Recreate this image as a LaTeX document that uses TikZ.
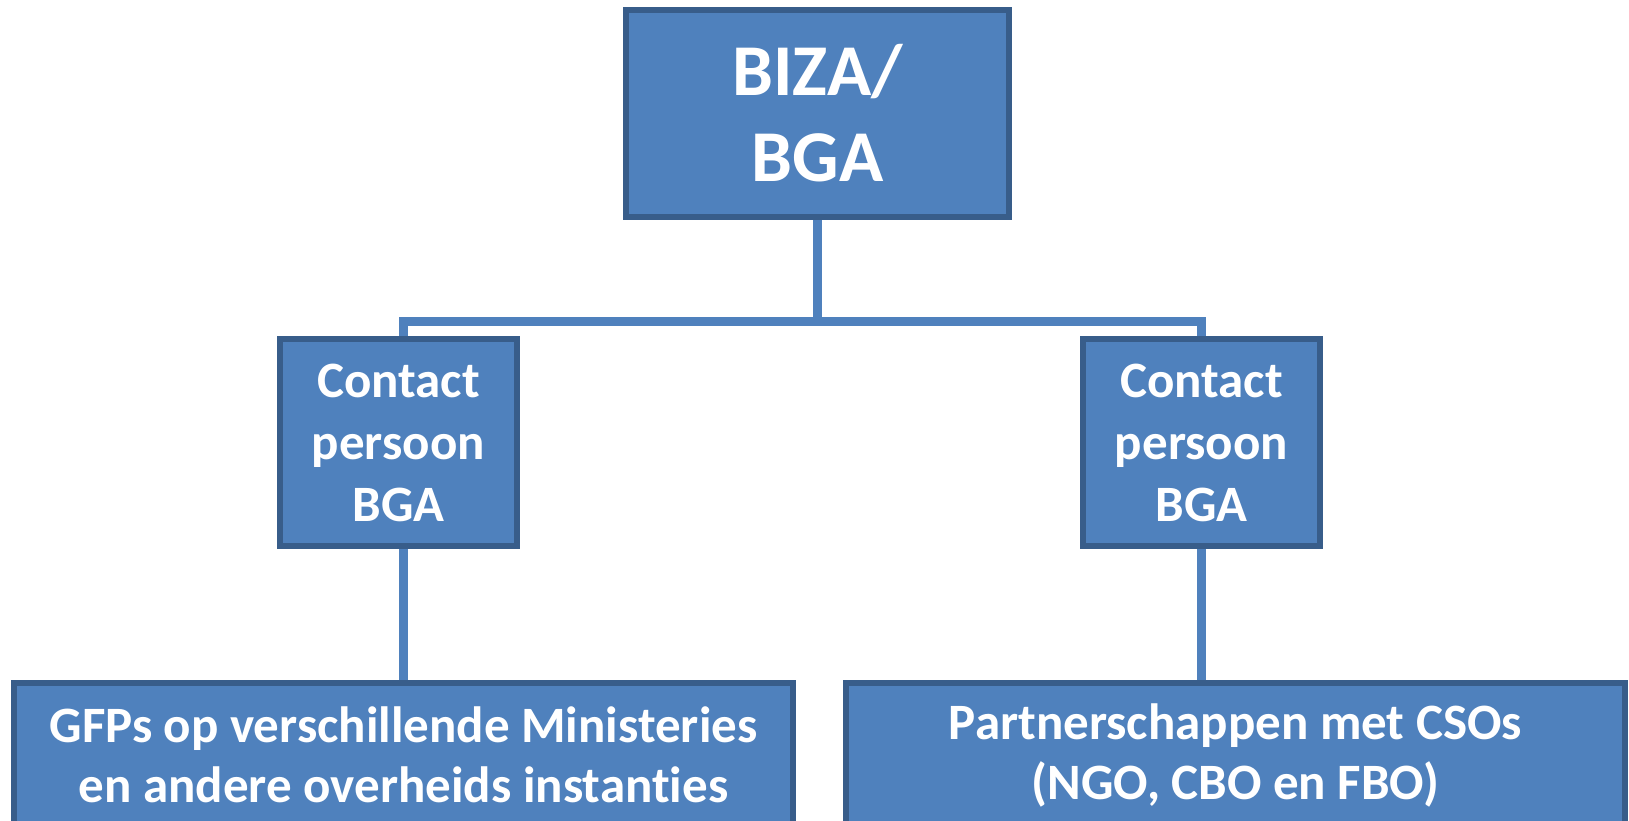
\documentclass[tikz,border=0pt]{standalone}
\usepackage{fontspec}
\setmainfont{Carlito}[Ligatures=NoCommon]
\definecolor{boxfill}{HTML}{4F81BD}
\definecolor{boxline}{HTML}{385D8A}
\begin{document}
\begin{tikzpicture}[x=1pt,y=-1pt,
	blok/.style={draw=boxline,fill=boxfill,line width=6pt,text=white,font=\bfseries,align=center,inner sep=0pt},
	lijn/.style={draw=boxfill,line width=9pt}]
	\useasboundingbox (0,0) rectangle (1629,820);
	\clip (0,0) rectangle (1629,820);
	\node[blok,minimum width=383,minimum height=207,font=\bfseries\fontsize{73}{86}\selectfont] (biza) at (817.5,113.5) {BIZA/\\BGA};
	\node[blok,minimum width=237,minimum height=207,font=\bfseries\fontsize{51}{62}\selectfont] (gfpcp) at (398.5,442.5) {Contact\\persoon\\BGA};
	\node[blok,minimum width=237,minimum height=207,font=\bfseries\fontsize{51}{62}\selectfont] (csocp) at (1201.5,442.5) {Contact\\persoon\\BGA};
	\node[blok,minimum width=779,minimum height=144,font=\bfseries\fontsize{51}{60}\selectfont] (gfp) at (403.5,755) {GFPs op verschillende Ministeries\\en andere overheids instanties};
	\node[blok,minimum width=779,minimum height=144,font=\bfseries\fontsize{51}{60}\selectfont] (cso) at (1235.5,755) {Partnerschappen met CSOs\\(NGO, CBO en FBO)};
	\coordinate (bus) at (817.5,321.5);
	\draw[lijn] (biza.south) -- (bus);
	\draw[lijn] (bus) -| (gfpcp.north -| gfp.north);
	\draw[lijn] (bus) -| (csocp.north);
	\draw[lijn] (gfpcp.south -| gfp.north) -- (gfp.north);
	\draw[lijn] (csocp.south) -- (cso.north -| csocp.south);
\end{tikzpicture}
\end{document}
